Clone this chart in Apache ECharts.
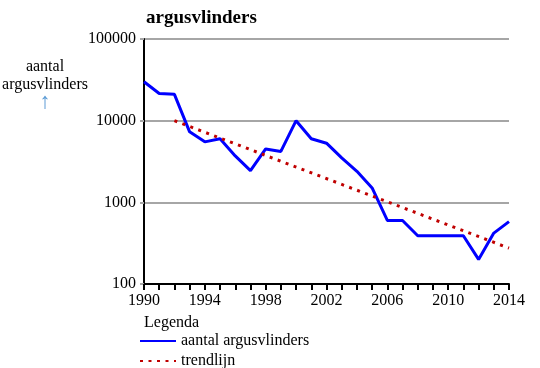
<!DOCTYPE html>
<html>
<head>
<meta charset="utf-8">
<script src="https://cdn.jsdelivr.net/npm/echarts@6/dist/echarts.min.js"></script>
<style>html,body{margin:0;padding:0;background:#fff}#c{width:540px;height:368px}</style>
</head>
<body>
<div id="c"></div>
<script>
const years = [1990,1991,1992,1993,1994,1995,1996,1997,1998,1999,2000,2001,2002,2003,2004,2005,2006,2007,2008,2009,2010,2011,2012,2013,2014];
const counts = [30000,21500,21000,7300,5500,6000,3700,2450,4500,4200,10000,6000,5300,3500,2400,1500,600,600,390,390,390,390,200,420,580];
const trendYears = [1992, 2014];
const trendValues = [10000, 275];
const seriesNames = ['aantal argusvlinders', 'trendlijn'];
const titleText = 'argusvlinders';
const yNameLines = ['aantal', 'argusvlinders'];

const FONT = "'Liberation Serif','Times New Roman',serif";
const chart = echarts.init(document.getElementById('c'));
chart.setOption({
  animation: false,
  title: {text: titleText, left: 141, top: 4, textStyle: {fontFamily: FONT, fontWeight: 'bold', fontSize: 19, color: '#000'}},
  grid: {left: 144, right: 31, top: 39, bottom: 84},
  xAxis: {
    type: 'value', min: 1990, max: 2014, interval: 1,
    axisLine: {lineStyle: {color: '#000', width: 2}},
    axisTick: {length: 6, lineStyle: {color: '#000', width: 2}},
    splitLine: {show: false},
    axisLabel: {fontFamily: FONT, fontSize: 16, color: '#000', margin: 9,
      formatter: v => ((v - 1990) % 4 === 0 ? String(v) : '')}
  },
  yAxis: {
    type: 'log', logBase: 10, min: 100, max: 100000,
    axisLine: {show: true, lineStyle: {color: '#000', width: 2}},
    axisTick: {show: true, length: 4, lineStyle: {color: '#a6a6a6', width: 2}},
    splitLine: {lineStyle: {color: '#a6a6a6', width: 2}},
    axisLabel: {fontFamily: FONT, fontSize: 16, color: '#000', margin: 8,
      formatter: v => String(Math.round(v))}
  },
  legend: {
    orient: 'vertical', left: 139, top: 333, padding: 0, itemWidth: 36, itemHeight: 14, itemGap: 4,
    height: 40,
    textStyle: {fontFamily: FONT, fontSize: 16, color: '#000'},
    itemStyle: {opacity: 0, borderWidth: 0},
    data: seriesNames
  },
  graphic: [
    {type: 'text', left: 144, top: 315, style: {text: 'Legenda', font: "16px " + FONT, fill: '#000'}},
    {type: 'text', x: 45, y: 67, style: {text: yNameLines[0], font: "16px " + FONT, fill: '#000', align: 'center', verticalAlign: 'middle'}},
    {type: 'text', x: 45, y: 85, style: {text: yNameLines[1], font: "16px " + FONT, fill: '#000', align: 'center', verticalAlign: 'middle'}},
    {type: 'text', x: 45, y: 102, style: {text: '↑', font: "22px " + FONT, fill: '#5b9bd5', align: 'center', verticalAlign: 'middle'}}
  ],
  series: [
    {name: seriesNames[0], type: 'line', symbol: 'none', color: '#0000ff',
      lineStyle: {color: '#0000ff', width: 3},
      data: years.map((y, i) => [y, counts[i]])},
    {name: seriesNames[1], type: 'line', symbol: 'none', color: '#c00000',
      lineStyle: {color: '#c00000', width: 3, type: [3, 5.5]},
      data: trendYears.map((y, i) => [y, trendValues[i]])}
  ]
});
</script>
</body>
</html>
